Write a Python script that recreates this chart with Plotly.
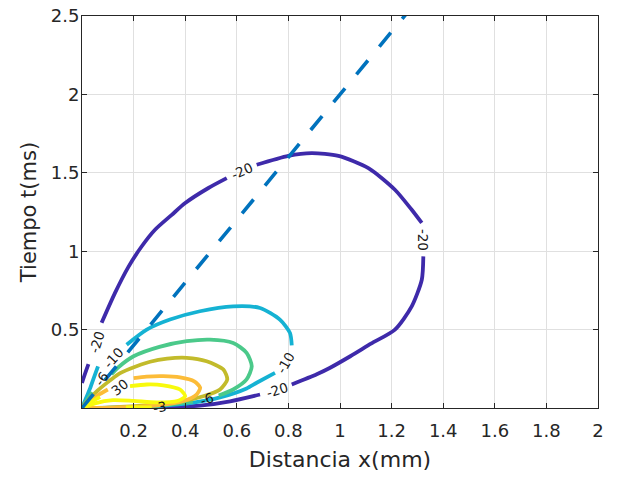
import plotly.graph_objects as go

# ---- data, x in mm, t in ms ----
X_TICKS = [0.2, 0.4, 0.6, 0.8, 1.0, 1.2, 1.4, 1.6, 1.8, 2.0]
X_TICKTEXT = ["0.2", "0.4", "0.6", "0.8", "1", "1.2", "1.4", "1.6", "1.8", "2"]
Y_TICKS = [0.5, 1.0, 1.5, 2.0, 2.5]
Y_TICKTEXT = ["0.5", "1", "1.5", "2", "2.5"]

# contour -20
C20_X = [0.0, 0.012, 0.025, None, 0.076, 0.128, 0.18, 0.231, 0.283, 0.348, 0.40, 0.49, 0.561, None,
         0.677, 0.80, 0.89, 0.994, 1.11, 1.213, 1.278, 1.317, None,
         1.323, 1.317, 1.278, 1.213, 1.12, 1.04, 0.96, 0.91, 0.813, None,
         0.69, 0.574, 0.457, 0.35, 0.2, 0.08, 0.0]
C20_T = [0.16, 0.22, 0.28, None, 0.543, 0.734, 0.90, 1.03, 1.137, 1.232, 1.307, 1.403, 1.466, None,
         1.551, 1.608, 1.625, 1.608, 1.530, 1.392, 1.264, 1.18, None,
         0.967, 0.818, 0.648, 0.5, 0.41, 0.33, 0.255, 0.215, 0.15, None,
         0.086, 0.043, 0.015, 0.006, 0.002, 0.0, 0.0]
# contour -10
C10_X = [0.0, 0.015, 0.03, 0.043, 0.062, None, 0.173, 0.251, 0.341, 0.457, 0.586, 0.690, 0.767, 0.806, 0.813, None,
         0.748, 0.677, 0.638, 0.535, 0.431, 0.3, 0.15, 0.0]
C10_T = [0.0, 0.06, 0.12, 0.18, 0.266, None, 0.404, 0.5, 0.564, 0.617, 0.648, 0.638, 0.564, 0.479, 0.40, None,
         0.224, 0.161, 0.125, 0.068, 0.035, 0.014, 0.004, 0.0]
# contour -6
C6_X = [0.0, 0.02, 0.04, None, 0.114, 0.141, 0.2, 0.3, 0.406, 0.496, 0.586, 0.638, 0.658, 0.638, 0.586, 0.53, None,
        0.43, 0.3, 0.15, 0.0]
C6_T = [0.0, 0.05, 0.1, None, 0.215, 0.26, 0.33, 0.39, 0.426, 0.436, 0.415, 0.352, 0.266, 0.182, 0.118, 0.08, None,
        0.04, 0.016, 0.004, 0.0]
# contour (olive)
C5_X = [0.0, 0.03, 0.06, 0.1, 0.14, 0.186, 0.264, 0.33, 0.406, 0.483, 0.548, 0.563, 0.535, 0.470, 0.38, 0.25, 0.1, 0.0]
C5_T = [0.0, 0.06, 0.11, 0.165, 0.215, 0.25, 0.295, 0.315, 0.32, 0.298, 0.245, 0.182, 0.118, 0.075, 0.042, 0.016, 0.003, 0.0]
# contour (orange)
C4_X = [0.0, 0.03, 0.07, 0.1, None, 0.2, 0.25, 0.315, 0.38, 0.435, 0.458, 0.444, 0.393, 0.3, 0.15, 0.0]
C4_T = [0.0, 0.045, 0.09, 0.118, None, 0.19, 0.2, 0.203, 0.195, 0.17, 0.13, 0.086, 0.045, 0.018, 0.004, 0.0]
# contour -3 (yellow)
C3_X = [0.0, 0.03, 0.07, None, 0.186, 0.251, 0.315, 0.38, 0.40, 0.37, 0.29, 0.2, 0.12, 0.05, 0.0, None,
        0.17, 0.27]
C3_T = [0.0, 0.035, 0.07, None, 0.139, 0.15, 0.145, 0.118, 0.075, 0.045, 0.036, 0.045, 0.05, 0.03, 0.0, None,
        0.004, 0.004]

# dashed reference line
DASH_X = [0.0, 1.3]
DASH_T = [0.0, 2.6]

# contour labels: text, x, t, angle
LAB_TEXT = ["-20", "-20", "-20", "-20", "-10", "-10", "-6", "-6", "30", "-3"]
LAB_X = [0.058, 0.62, 1.32, 0.755, 0.12, 0.787, 0.075, 0.483, 0.147, 0.302]
LAB_T = [0.42, 1.51, 1.075, 0.117, 0.322, 0.29, 0.185, 0.06, 0.135, 0.006]
LAB_ANG = [-72, -24, 90, -18, -48, -60, -55, -20, -38, -10]

CONTOURS = [
    (C20_X, C20_T, "#3E2AAA"),
    (C10_X, C10_T, "#15B2D3"),
    (C6_X, C6_T, "#4BC98A"),
    (C5_X, C5_T, "#C2BB2B"),
    (C4_X, C4_T, "#FCBC38"),
    (C3_X, C3_T, "#F8FA0D"),
]

FONT = "DejaVu Sans, Liberation Sans, Arial"

fig = go.Figure()
for cx, ct, col in CONTOURS:
    fig.add_trace(go.Scatter(x=cx, y=ct, mode="lines",
                             line=dict(color=col, width=3.8, shape="spline", smoothing=0.7),
                             connectgaps=False, hoverinfo="skip", showlegend=False))

fig.add_trace(go.Scatter(x=DASH_X, y=DASH_T, mode="lines",
                         line=dict(color="#0072BD", width=3.6, dash="18px,18px"),
                         hoverinfo="skip", showlegend=False))

for txt, lx, lt, ang in zip(LAB_TEXT, LAB_X, LAB_T, LAB_ANG):
    fig.add_annotation(x=lx, y=lt, text=txt, showarrow=False, textangle=ang,
                       font=dict(family=FONT, size=13.5, color="#1a1a1a"))

axis_common = dict(
    showgrid=True, gridcolor="#E0E0E0", gridwidth=1, zeroline=False,
    showline=True, linecolor="#262626", linewidth=1, mirror="ticks",
    ticks="inside", ticklen=5, tickcolor="#262626", ticklabeloverflow="allow",
    tickfont=dict(family=FONT, size=18, color="#262626"),
)

fig.update_xaxes(range=[0, 2], tickvals=X_TICKS, ticktext=X_TICKTEXT, ticklabelstandoff=6,
                 title=dict(text="Distancia x(mm)", standoff=12,
                            font=dict(family=FONT, size=22, color="#262626")),
                 **axis_common)
fig.update_yaxes(range=[0, 2.5], tickvals=Y_TICKS, ticktext=Y_TICKTEXT, ticklabelstandoff=-2,
                 title=dict(text="Tiempo t(ms)", standoff=8,
                            font=dict(family=FONT, size=21, color="#262626")),
                 **axis_common)

fig.update_layout(
    width=625, height=482,
    margin=dict(l=82, r=27, t=16, b=74, autoexpand=False),
    paper_bgcolor="white", plot_bgcolor="white",
    showlegend=False,
)

# remove the default 8px page margin so the figure fills the window
fig.write_html("out.html",
               config={"displayModeBar": False, "staticPlot": True},
               post_script="document.body.style.margin='0';document.body.style.overflow='hidden';")
